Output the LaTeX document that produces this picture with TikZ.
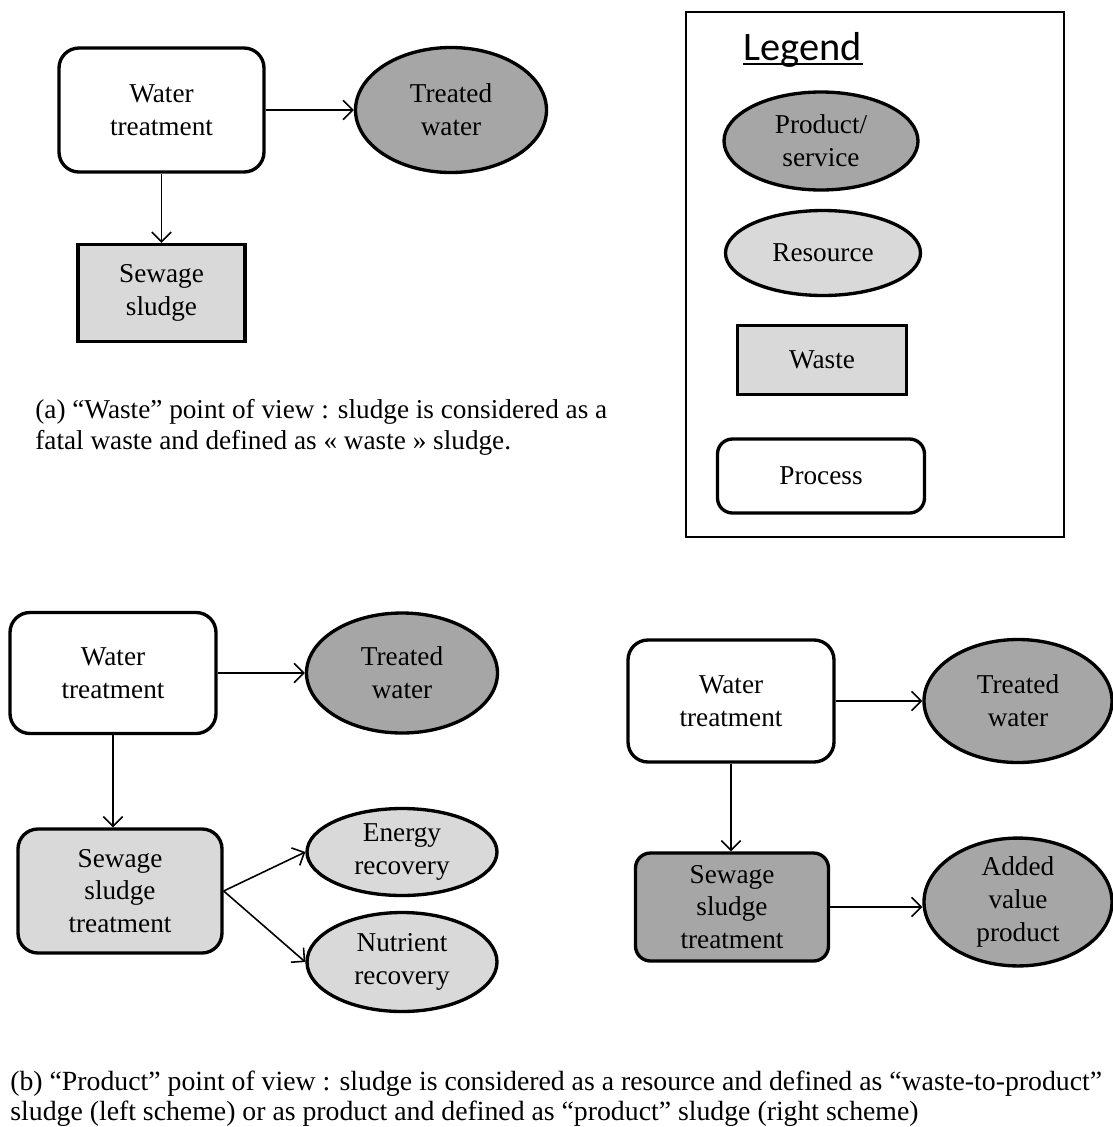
\documentclass[tikz,border=0pt]{standalone}
\usepackage{fontspec}
\setmainfont{Liberation Serif}
\newfontfamily\legendfont{Carlito}
\usetikzlibrary{shapes.geometric,arrows.meta}

\definecolor{productgray}{RGB}{166,166,166}
\definecolor{resourcegray}{RGB}{217,217,217}

\tikzset{
  txt/.style={font=\fontsize{15.5}{18.7}\selectfont, align=center, inner sep=0pt},
  process/.style={txt, draw, line width=1.9pt, rounded corners=0.4cm, fill=white},
  waste/.style={txt, draw, line width=1.9pt, fill=resourcegray},
  product/.style={txt, ellipse, draw, line width=1.9pt, fill=productgray},
  resource/.style={txt, ellipse, draw, line width=1.9pt, fill=resourcegray},
  flow/.style={line width=0.9pt, -{Straight Barb[length=5.5pt,width=11pt]}},
  caption/.style={font=\fontsize{15.5}{18}\selectfont, align=left, inner sep=0pt, anchor=west}
}

\begin{document}
\begin{tikzpicture}

\useasboundingbox (0,0) rectangle (22.26,-22.54);

% (a) waste point of view
\node[process, minimum width=4.1cm, minimum height=2.48cm] (wt1) at (3.23,-2.20) {Water\\treatment};
\node[product, minimum width=3.82cm, minimum height=2.5cm] (tw1) at (9.02,-2.20) {Treated\\water};
\node[waste, minimum width=3.34cm, minimum height=1.94cm] (ss1) at (3.23,-5.86) {Sewage\\sludge};

\draw[flow] (wt1) -- (tw1);
\draw[flow] (wt1) -- (ss1);

\node[caption] (capa) at (0.70,-8.55) {(a) “Waste” point of view : sludge is considered as a\\fatal waste and defined as « waste » sludge.};

% legend
\draw[line width=0.8pt] (13.72,-0.24) rectangle (21.28,-10.74);
\node[font=\legendfont\fontsize{23}{27}\selectfont, anchor=base, inner sep=0pt] (legtitle) at (16.06,-1.20) {Legend};
\draw[line width=1pt] ([yshift=-2.2pt]legtitle.base west) -- ([yshift=-2.2pt]legtitle.base east);

\node[product, minimum width=3.88cm, minimum height=1.96cm] (lprod) at (16.42,-2.82) {Product/\\service};
\node[resource, minimum width=3.9cm, minimum height=1.7cm] (lres) at (16.46,-5.06) {Resource};
\node[waste, minimum width=3.38cm, minimum height=1.38cm] (lwaste) at (16.44,-7.20) {Waste};
\node[process, rounded corners=0.3cm, minimum width=4.14cm, minimum height=1.48cm] (lproc) at (16.42,-9.52) {Process};

% (b) left scheme
\node[process, minimum width=4.12cm, minimum height=2.42cm] (wt2) at (2.26,-13.46) {Water\\treatment};
\node[product, minimum width=3.82cm, minimum height=2.4cm] (tw2) at (8.04,-13.46) {Treated\\water};
\node[process, fill=resourcegray, minimum width=4.08cm, minimum height=2.48cm] (sst2) at (2.40,-17.82) {Sewage\\sludge\\treatment};
\node[resource, minimum width=3.8cm, minimum height=1.74cm] (er) at (8.04,-17.04) {Energy\\recovery};
\node[resource, minimum width=3.8cm, minimum height=1.98cm] (nr) at (8.04,-19.24) {Nutrient\\recovery};

\draw[flow] (wt2) -- (tw2);
\draw[flow] (wt2.south) -- (wt2.south |- sst2.north);
\draw[flow] (sst2.east) -- (er.west);
\draw[flow] (sst2.east) -- (nr.west);

% (b) right scheme
\node[process, minimum width=4.12cm, minimum height=2.44cm] (wt3) at (14.62,-14.02) {Water\\treatment};
\node[product, minimum width=3.76cm, minimum height=2.46cm] (tw3) at (20.36,-14.02) {Treated\\water};
\node[process, fill=productgray, rounded corners=0.3cm, minimum width=3.86cm, minimum height=2.16cm] (sst3) at (14.64,-18.14) {Sewage\\sludge\\treatment};
\node[product, minimum width=3.76cm, minimum height=2.46cm] (avp) at (20.36,-18.04) {Added\\value\\product};

\draw[flow] (wt3) -- (tw3);
\draw[flow] (wt3.south) -- (wt3.south |- sst3.north);
\draw[flow] (sst3.east) -- (sst3.east -| avp.west);

\node[caption, font=\fontsize{15.8}{17}\selectfont] (capb) at (0.20,-21.98) {(b) “Product” point of view : sludge is considered as a resource and defined as “waste-to-product”\\sludge (left scheme) or as product and defined as “product” sludge (right scheme)};

\end{tikzpicture}
\end{document}
